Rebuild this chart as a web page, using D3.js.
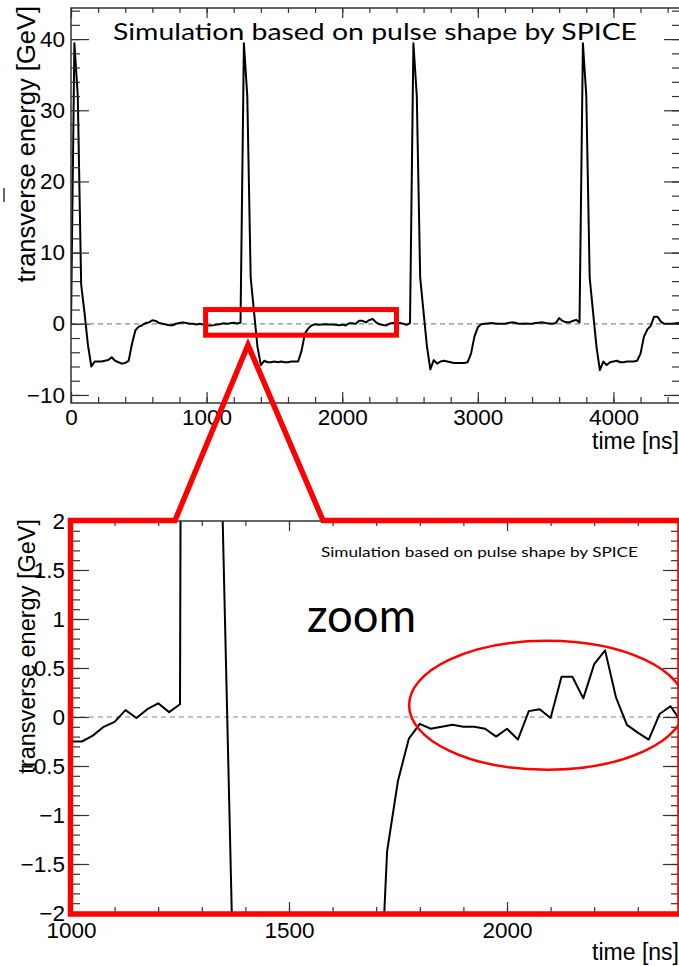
<!DOCTYPE html>
<html>
<head>
<meta charset="utf-8">
<script src="https://cdn.jsdelivr.net/npm/d3@7"></script>
<style>
  body { margin: 0; background: #fff; }
  svg { display: block; }
  .tick text { font-family: "Liberation Sans", Arial, sans-serif; font-size: 22.5px; fill: #000; }
  .domain { display: none; }
  .tick line { stroke: #333; stroke-width: 1.2; }
</style>
</head>
<body>
<div id="chart"></div>
<script>
// waveform (time in ns, transverse energy in GeV)
const times = [
  0, 25, 50, 75, 100, 125, 150, 175, 200, 225, 250, 275, 300, 325, 350, 375, 400, 425, 450, 475,
  500, 525, 550, 575, 600, 625, 650, 675, 700, 725, 750, 775, 800, 825, 850, 875, 900, 925, 950, 975,
  1000, 1025, 1050, 1075, 1100, 1125, 1150, 1175, 1200, 1225, 1250, 1275, 1300, 1325, 1350, 1375, 1400, 1425, 1450, 1475,
  1500, 1525, 1550, 1575, 1600, 1625, 1650, 1675, 1700, 1725, 1750, 1775, 1800, 1825, 1850, 1875, 1900, 1925, 1950, 1975,
  2000, 2025, 2050, 2075, 2100, 2125, 2150, 2175, 2200, 2225, 2250, 2275, 2300, 2325, 2350, 2375, 2400, 2425, 2450, 2475,
  2500, 2525, 2550, 2575, 2600, 2625, 2650, 2675, 2700, 2725, 2750, 2775, 2800, 2825, 2850, 2875, 2900, 2925, 2950, 2975,
  3000, 3025, 3050, 3075, 3100, 3125, 3150, 3175, 3200, 3225, 3250, 3275, 3300, 3325, 3350, 3375, 3400, 3425, 3450, 3475,
  3500, 3525, 3550, 3575, 3600, 3625, 3650, 3675, 3700, 3725, 3750, 3775, 3800, 3825, 3850, 3875, 3900, 3925, 3950, 3975,
  4000, 4025, 4050, 4075, 4100, 4125, 4150, 4175, 4200, 4225, 4250, 4275, 4300, 4325, 4350, 4375, 4400, 4425, 4450, 4475,
  4500
];
const energy = [
  0.0, 39.4, 32.0, 5.5, 1.5, -3.0, -6.0, -5.3, -5.3, -5.3, -5.2, -5.1, -4.7, -5.2, -5.4, -5.6, -5.5, -5.2, -2.8, -0.9,
  -0.4, -0.2, 0.1, 0.2, 0.5, 0.4, 0.1, 0.0, -0.1, -0.2, -0.2, 0.0, 0.1, 0.2, 0.1, 0.0, 0.0, -0.1, 0.0, -0.1,
  -0.25, -0.25, -0.19, -0.10, -0.05, 0.07, -0.01, 0.08, 0.14, 0.05, 0.13, 39.4, 32.0, 6.5, 1.6, -3.2, -5.8, -5.2, -5.4, -5.4,
  -5.3, -5.4, -5.3, -5.4, -5.4, -5.3, -5.3, -5.3, -3.8, -1.37, -0.65, -0.22, -0.07, -0.12, -0.10, -0.08, -0.10, -0.10, -0.12, -0.20,
  -0.12, -0.23, 0.06, 0.08, -0.01, 0.41, 0.41, 0.19, 0.54, 0.68, 0.20, -0.08, -0.16, -0.23, 0.03, 0.11, -0.05, 0.1, 0.0, -0.15,
  0.1, 39.4, 32.0, 6.5, 1.6, -3.2, -6.4, -5.1, -5.6, -5.3, -5.2, -5.3, -5.4, -5.5, -5.5, -5.5, -5.5, -5.4, -4.2, -1.8,
  -0.5, -0.05, 0.0, 0.05, 0.1, 0.05, 0.0, 0.0, 0.0, 0.1, 0.2, 0.15, 0.0, 0.0, 0.05, 0.0, 0.0, 0.1, 0.15, 0.2,
  0.1, 0.05, 0.0, 0.1, 0.8, 0.4, 0.2, 0.2, 0.4, 0.55, 0.2, 39.4, 32.0, 6.5, 1.6, -3.2, -6.5, -5.3, -5.8, -5.4,
  -5.3, -5.2, -5.4, -5.4, -5.3, -5.3, -5.3, -5.2, -4.2, -1.8, -0.8, -0.3, 1.0, 1.0, 0.3, 0.0, 0.0, 0.0, 0.05, 0.1,
  0.0
];

const fullXTicks = [0, 1000, 2000, 3000, 4000];
const fullYTicks = [-10, 0, 10, 20, 30, 40];
const zoomXTicks = [1000, 1500, 2000];
const zoomYTicks = [-2, -1.5, -1, -0.5, 0, 0.5, 1, 1.5, 2];

const titleText = "Simulation based on pulse shape by SPICE";
const xTitle = "time [ns]";
const yTitle = "transverse energy [GeV]";

const W = 679, H = 966;
const svg = d3.select("#chart").append("svg").attr("width", W).attr("height", H);

const pts = times.map((t, i) => ({t: t, e: energy[i]}));

function panel(opt) {
  const x = d3.scaleLinear().domain(opt.xDom).range([opt.left, opt.right]);
  const y = d3.scaleLinear().domain(opt.yDom).range([opt.bottom, opt.top]);
  const g = svg.append("g");

  const clipId = "clip" + opt.name;
  svg.append("clipPath").attr("id", clipId).append("rect")
    .attr("x", opt.left).attr("y", opt.top)
    .attr("width", opt.right - opt.left).attr("height", opt.bottom - opt.top);

  // zero line
  g.append("line")
    .attr("x1", opt.left).attr("x2", opt.right)
    .attr("y1", y(0)).attr("y2", y(0))
    .attr("stroke", "#888").attr("stroke-width", 1.2).attr("stroke-dasharray", "5,4");

  // waveform
  g.append("path")
    .datum(pts)
    .attr("clip-path", "url(#" + clipId + ")")
    .attr("fill", "none").attr("stroke", "#000").attr("stroke-width", 2)
    .attr("stroke-linejoin", "round")
    .attr("d", d3.line().x(d => x(d.t)).y(d => y(d.e)));

  // frame
  g.append("rect")
    .attr("x", opt.left).attr("y", opt.top)
    .attr("width", opt.right - opt.left).attr("height", opt.bottom - opt.top)
    .attr("fill", "none").attr("stroke", "#333").attr("stroke-width", 1.5);

  // minor ticks
  const minorX = d3.range(opt.xDom[0] - opt.xDom[0] % opt.xMinor, opt.xDom[1], opt.xMinor).filter(v => v >= opt.xDom[0]);
  const minorY = d3.range(Math.ceil(opt.yDom[0] / opt.yMinor) * opt.yMinor, opt.yDom[1] + 1e-9, opt.yMinor);

  g.append("g").attr("transform", `translate(0,${opt.bottom})`)
    .call(d3.axisBottom(x).tickValues(minorX).tickSize(-6).tickFormat(""));
  g.append("g").attr("transform", `translate(0,${opt.top})`)
    .call(d3.axisTop(x).tickValues(minorX).tickSize(-5).tickFormat(""));
  g.append("g").attr("transform", `translate(${opt.left},0)`)
    .call(d3.axisLeft(y).tickValues(minorY).tickSize(-9).tickFormat(""));
  g.append("g").attr("transform", `translate(${opt.right},0)`)
    .call(d3.axisRight(y).tickValues(minorY).tickSize(-8).tickFormat(""));

  // major ticks + labels
  g.append("g").attr("transform", `translate(0,${opt.bottom})`)
    .call(d3.axisBottom(x).tickValues(opt.xTicks).tickSizeInner(-11).tickSizeOuter(0)
      .tickPadding(opt.xPad).tickFormat(d3.format("")));
  g.append("g").attr("transform", `translate(0,${opt.top})`)
    .call(d3.axisTop(x).tickValues(opt.xTicks).tickSize(-10).tickFormat(""));
  g.append("g").attr("transform", `translate(${opt.left},0)`)
    .call(d3.axisLeft(y).tickValues(opt.yTicks).tickSizeInner(-18).tickSizeOuter(0)
      .tickPadding(6).tickFormat(d3.format("")));
  g.append("g").attr("transform", `translate(${opt.right},0)`)
    .call(d3.axisRight(y).tickValues(opt.yTicks).tickSize(-16).tickFormat(""));

  // axis titles
  g.append("text")
    .attr("x", 679).attr("y", opt.xTitleY)
    .attr("text-anchor", "end")
    .style("font-family", "Liberation Sans, Arial, sans-serif").style("font-size", "23px")
    .text(xTitle);
  g.append("text")
    .attr("transform", `translate(35,${opt.top - 2}) rotate(-90)`)
    .attr("text-anchor", "end")
    .style("font-family", "Liberation Sans, Arial, sans-serif").style("font-size", opt.yTitleSize + "px")
    .text(yTitle);

  return {x: x, y: y};
}

const fullP = panel({
  name: "full", left: 71, right: 680, top: 8, bottom: 403,
  xDom: [0, 4491], yDom: [-11.13, 44.37],
  xTicks: fullXTicks, yTicks: fullYTicks, xMinor: 200, yMinor: 2,
  xPad: 6, xTitleY: 449, yTitleSize: 25.5
});

const zoomP = panel({
  name: "zoom", left: 71, right: 679, top: 521, bottom: 913,
  xDom: [1000, 2394.5], yDom: [-2, 2],
  xTicks: zoomXTicks, yTicks: zoomYTicks, xMinor: 100, yMinor: 0.1,
  xPad: 9, xTitleY: 960, yTitleSize: 23.5
});

// titles (added text)
svg.append("text")
  .attr("x", 113).attr("y", 40)
  .attr("textLength", 524).attr("lengthAdjust", "spacingAndGlyphs")
  .style("font-family", "Lato, sans-serif").style("font-size", "24px")
  .text(titleText);
svg.append("text")
  .attr("x", 321).attr("y", 557)
  .attr("textLength", 317).attr("lengthAdjust", "spacingAndGlyphs")
  .style("font-family", "Lato, sans-serif").style("font-size", "14px")
  .text(titleText);
svg.append("text")
  .attr("x", 307).attr("y", 632)
  .attr("textLength", 109).attr("lengthAdjust", "spacingAndGlyphs")
  .style("font-family", "Lato, sans-serif").style("font-size", "46px")
  .text("zoom");

// small stray mark at the left edge
svg.append("line").attr("x1", 4).attr("x2", 4).attr("y1", 188).attr("y2", 202)
  .attr("stroke", "#000").attr("stroke-width", 1.2);

// red zoom box in upper panel, using the scales
const zx0 = 1000, zx1 = 2400, zy0 = -1.6, zy1 = 2;
const red = "#f00";
svg.append("rect")
  .attr("x", fullP.x(zx0) - 1).attr("y", fullP.y(zy1))
  .attr("width", fullP.x(zx1) - fullP.x(zx0) + 1).attr("height", fullP.y(zy0) - fullP.y(zy1))
  .attr("fill", "none").attr("stroke", red).attr("stroke-width", 5);

// red outline around the zoom panel, with the triangle pointing up
const apex = [248, 345];
svg.append("path")
  .attr("d", d3.line()([
    [175, 520.5], apex, [323, 520.5], [680, 520.5], [680, 914], [70.5, 914], [70.5, 520.5], [175, 520.5]
  ]) + "Z")
  .attr("fill", "none").attr("stroke", red).attr("stroke-width", 5.5)
  .attr("stroke-linejoin", "miter");

// red ellipse around the fluctuations
svg.append("ellipse")
  .attr("cx", zoomP.x(2092)).attr("cy", zoomP.y(0.12))
  .attr("rx", 138).attr("ry", 64.5)
  .attr("fill", "none").attr("stroke", red).attr("stroke-width", 2.5);
</script>
</body>
</html>
